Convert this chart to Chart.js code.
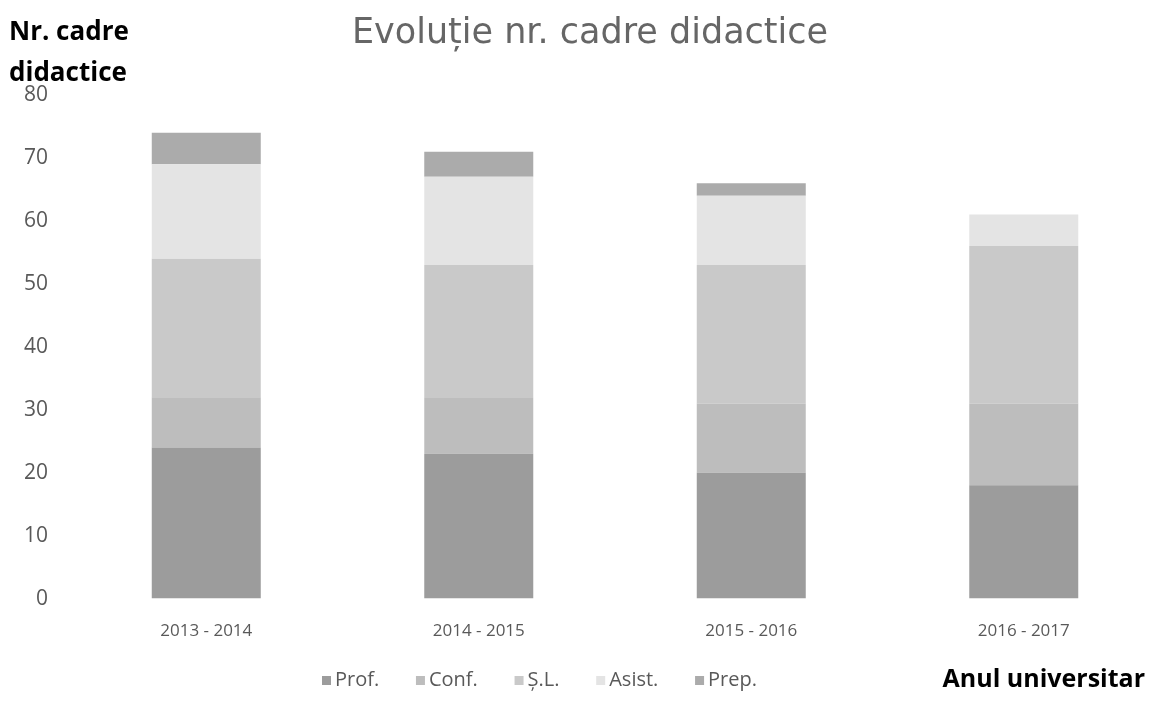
<!DOCTYPE html>
<html lang="ro">
<head>
    <meta charset="UTF-8">
    <title>Evoluție nr. cadre didactice</title>
    <script src="https://cdn.jsdelivr.net/npm/chart.js@4.4.1/dist/chart.umd.min.js"></script>
    <style>
        body {
            margin: 0;
            background: #ffffff;
            overflow: hidden;
        }
        /* picture is cropped slightly on the right, so the chart is a bit wider than the window */
        .wrap {
            position: relative;
            width: 1160px;
            height: 702px;
        }
    </style>
</head>
<body>

<div class="wrap">
    <canvas id="cadreChart"></canvas>
</div>

<script>
    // --- DATA ---
    const categories = ['2013 - 2014', '2014 - 2015', '2015 - 2016', '2016 - 2017'];
    const prof  = [24, 23, 20, 18];
    const conf  = [8, 9, 11, 13];
    const sl    = [22, 21, 22, 25];
    const asist = [15, 14, 11, 5];
    const prep  = [5, 4, 2, 0];
    const seriesNames = ['Prof.', 'Conf.', 'Ș.L.', 'Asist.', 'Prep.'];
    const yTickValues = [0, 10, 20, 30, 40, 50, 60, 70, 80];

    const chartTitle = 'Evoluție nr. cadre didactice';
    const yTitle = ['Nr. cadre', 'didactice'];
    const xTitle = 'Anul universitar';

    const colors = ['#9c9c9c', '#bdbdbd', '#c9c9c9', '#e4e4e4', '#ababab'];
    const seriesData = [prof, conf, sl, asist, prep];

    // title, horizontal axis titles and legend, placed like the Excel original
    const overlay = {
        id: 'overlay',
        afterDraw(chart) {
            const ctx = chart.ctx;
            ctx.save();

            ctx.fillStyle = '#666666';
            ctx.font = '35px "DejaVu Sans"';
            ctx.textAlign = 'center';
            ctx.textBaseline = 'middle';
            ctx.fillText(chartTitle, 590, 34);

            ctx.fillStyle = '#000000';
            ctx.font = 'bold 26px "Open Sans"';
            ctx.textAlign = 'left';
            ctx.fillText(yTitle[0], 9, 33);
            ctx.fillText(yTitle[1], 9, 74);

            ctx.font = 'bold 25px "Open Sans"';
            ctx.textAlign = 'right';
            ctx.fillText(xTitle, 1145, 680);

            // legend
            ctx.font = '20px "Open Sans"';
            ctx.textAlign = 'left';
            const box = 9, boxGap = 4;
            const widths = chart.data.datasets.map(ds => ctx.measureText(ds.label).width);
            const startX = 322, endX = 757;
            const used = widths.reduce((a, w) => a + w + box + boxGap, 0);
            const gap = (endX - startX - used) / (widths.length - 1);
            let x = startX;
            chart.data.datasets.forEach((ds, i) => {
                ctx.fillStyle = ds.backgroundColor;
                ctx.fillRect(x, 676, box, box);
                ctx.fillStyle = '#595959';
                ctx.fillText(ds.label, x + box + boxGap, 680);
                x += box + boxGap + widths[i] + gap;
            });

            ctx.restore();
        }
    };

    const ctx = document.getElementById('cadreChart').getContext('2d');
    new Chart(ctx, {
        type: 'bar',
        data: {
            labels: categories,
            datasets: seriesData.map((d, i) => ({
                label: seriesNames[i],
                data: d,
                backgroundColor: colors[i],
                borderWidth: 0,
                barPercentage: 0.4,
                categoryPercentage: 1.0
            }))
        },
        options: {
            responsive: true,
            maintainAspectRatio: false,
            animation: false,
            layout: {
                padding: { top: 95, left: 2, right: 0, bottom: 39 }
            },
            plugins: {
                legend: { display: false },
                title: { display: false },
                tooltip: { enabled: false }
            },
            scales: {
                x: {
                    stacked: true,
                    grid: { display: false, drawTicks: false },
                    border: { display: false },
                    ticks: {
                        font: { size: 17, family: 'Open Sans' },
                        color: '#595959',
                        padding: 22
                    }
                },
                y: {
                    stacked: true,
                    min: 0,
                    max: 80,
                    afterBuildTicks(scale) {
                        scale.ticks = yTickValues.map(v => ({ value: v }));
                    },
                    grid: { display: false, drawTicks: false },
                    border: { display: false },
                    ticks: {
                        font: { size: 21, family: 'Open Sans' },
                        color: '#595959',
                        padding: 22
                    }
                }
            }
        },
        plugins: [overlay]
    });
</script>

</body>
</html>
